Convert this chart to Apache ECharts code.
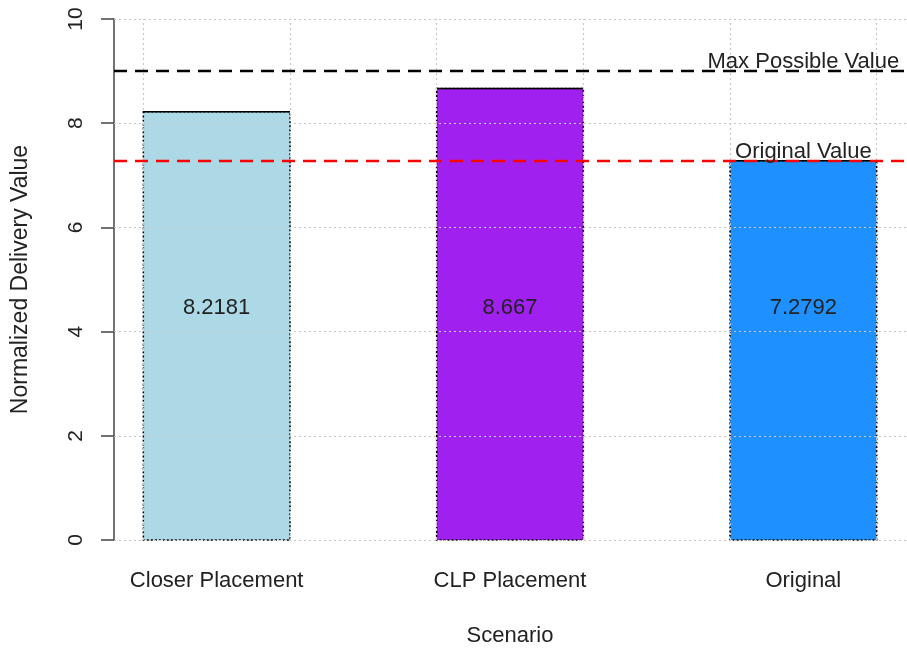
<!DOCTYPE html>
<html>
<head>
<meta charset="utf-8">
<script src="https://cdn.jsdelivr.net/npm/echarts@6/dist/echarts.min.js"></script>
<style>
  html, body { margin: 0; padding: 0; background: #fff; }
  #chart { width: 907px; height: 652px; }
</style>
</head>
<body>
<div id="chart"></div>
<script>
// Data
const scenarios = ['Closer Placement', 'CLP Placement', 'Original'];
const deliveryValues = [8.2181, 8.667, 7.2792];
const valueLabels = ['8.2181', '8.667', '7.2792'];
const barColors = ['#ADD8E6', '#A020F0', '#1E90FF'];
const refLines = [9, 7.2792];
const refLabels = ['Max Possible Value', 'Original Value'];
const yTicks = [0, 2, 4, 6, 8, 10];
const xGrid = [1, 2, 3, 4, 5, 6];

const FONT = 'Liberation Sans, Arial, sans-serif';
const LABEL_Y = 4.45; // value labels sit at one shared height

// R barplot layout: width 1, space 1 -> centres at 1.5, 3.5, 5.5
const centres = scenarios.map((_, i) => 1.5 + 2 * i);

const chart = echarts.init(document.getElementById('chart'));

const gridLineStyle = { color: '#C8C8C8', type: [2, 3], width: 1.2 };

chart.setOption({
  animation: false,
  grid: { left: 114, right: 1, top: 19, bottom: 108 },
  xAxis: {
    type: 'value',
    min: 0.8,
    max: 6.2,
    name: 'Scenario',
    nameLocation: 'middle',
    nameGap: 85,
    nameTextStyle: { fontFamily: FONT, fontSize: 22, color: '#222' },
    axisLine: { show: false },
    axisTick: { show: false },
    splitLine: { show: false },
    axisLabel: {
      customValues: centres,
      margin: 30,
      fontFamily: FONT,
      fontSize: 22,
      color: '#222',
      formatter: v => scenarios[centres.findIndex(c => Math.abs(c - v) < 1e-6)] || ''
    }
  },
  yAxis: {
    type: 'value',
    min: 0,
    max: 10,
    interval: 2,
    name: 'Normalized Delivery Value',
    nameLocation: 'middle',
    nameGap: 82,
    nameTextStyle: { fontFamily: FONT, fontSize: 23, color: '#222' },
    axisLine: { show: true, lineStyle: { color: '#444', width: 1.5 } },
    axisTick: { show: true, length: 13, lineStyle: { color: '#444', width: 1.5 } },
    splitLine: { show: false },
    axisLabel: {
      rotate: 90,
      margin: 27,
      fontFamily: FONT,
      fontSize: 21,
      color: '#222'
    }
  },
  series: [
    {
      type: 'custom',
      z: 2,
      data: centres.map((c, i) => [c, deliveryValues[i], i]),
      renderItem: (params, api) => {
        const i = api.value(2);
        const tl = api.coord([api.value(0) - 0.5, api.value(1)]);
        const br = api.coord([api.value(0) + 0.5, 0]);
        const mid = api.coord([api.value(0), LABEL_Y]);
        const shape = { x: tl[0], y: tl[1], width: br[0] - tl[0], height: br[1] - tl[1] };
        return {
          type: 'group',
          children: [
            { type: 'rect', shape, style: { fill: barColors[i], stroke: null } },
            { type: 'rect', shape, style: { fill: null, stroke: '#000', lineWidth: 1.5, lineDash: [2, 2] } },
            { type: 'line', shape: { x1: tl[0], y1: tl[1], x2: br[0], y2: tl[1] }, style: { stroke: '#000', lineWidth: 1.5 } },
            {
              type: 'text',
              z2: 10,
              style: {
                x: mid[0], y: mid[1], text: valueLabels[i],
                align: 'center', verticalAlign: 'middle',
                font: '22px ' + FONT, fill: '#222'
              }
            }
          ]
        };
      }
    },
    {
      // grid lines drawn over the bars, as in the reference
      type: 'line',
      data: [],
      z: 3,
      silent: true,
      markLine: {
        symbol: 'none',
        silent: true,
        label: { show: false },
        lineStyle: gridLineStyle,
        data: [
          ...xGrid.map(x => ({ xAxis: x })),
          ...yTicks.map(y => ({ yAxis: y }))
        ]
      }
    },
    {
      type: 'line',
      data: [],
      z: 4,
      silent: true,
      markLine: {
        symbol: 'none',
        silent: true,
        label: { show: false },
        data: [
          { yAxis: refLines[0], lineStyle: { color: '#000', type: [13, 8], width: 2.4 } },
          { yAxis: refLines[1], lineStyle: { color: '#FF0000', type: [13, 8], width: 2.4 } }
        ]
      }
    },
    {
      type: 'custom',
      z: 5,
      data: refLines.map((v, i) => [centres[centres.length - 1], v, i]),
      renderItem: (params, api) => {
        const p = api.coord([api.value(0), api.value(1)]);
        return {
          type: 'text',
          style: {
            x: p[0], y: p[1] + 2, text: refLabels[api.value(2)],
            align: 'center', verticalAlign: 'bottom',
            font: '22px ' + FONT, fill: '#222'
          }
        };
      }
    }
  ]
});
</script>
</body>
</html>
